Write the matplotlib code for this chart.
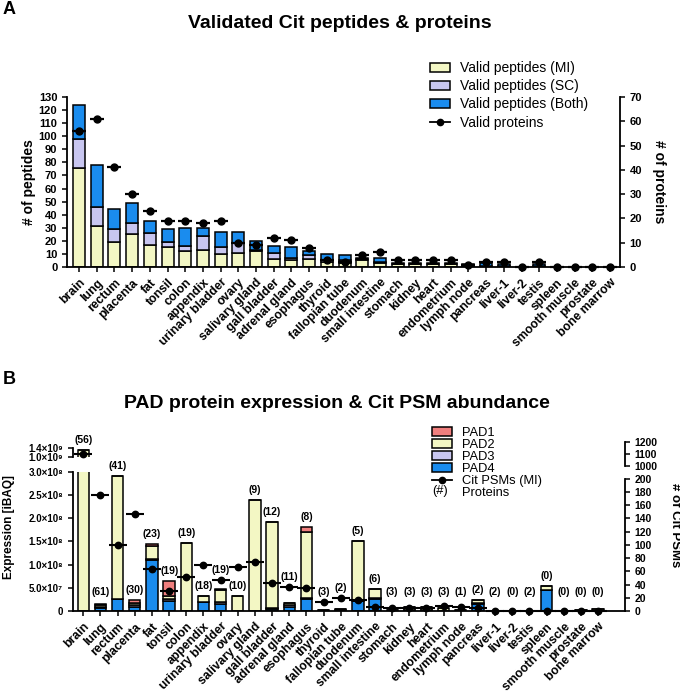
import numpy as np
import matplotlib
matplotlib.use("Agg")
import matplotlib.pyplot as plt
from matplotlib.lines import Line2D
from matplotlib.patches import Patch
from matplotlib.text import Text
from matplotlib.ticker import FuncFormatter

plt.rcParams["font.family"] = ["Liberation Sans", "DejaVu Sans"]

# ---- data ----
tissues = ["brain", "lung", "rectum", "placenta", "fat", "tonsil", "colon", "appendix",
           "urinary bladder", "ovary", "salivary gland", "gall bladder", "adrenal gland",
           "esophagus", "thyroid", "fallopian tube", "duodenum", "small intestine", "stomach",
           "kidney", "heart", "endometrium", "lymph node", "pancreas", "liver-1", "liver-2",
           "testis", "spleen", "smooth muscle", "prostate", "bone marrow"]

# panel A: peptide counts per category (stacked) and protein counts
pep_mi = [76, 31, 19, 25, 17, 15, 12, 13, 10, 11, 12, 6, 5, 6, 4, 3, 5, 3, 2, 2, 2, 2, 1, 1, 1, 0, 1, 0, 0, 0, 0]
pep_sc = [22, 15, 10, 9, 9, 4, 4, 11, 5, 7, 1, 5, 2, 3, 1, 2, 1, 1, 0, 0, 0, 0, 0, 0, 0, 0, 0, 0, 0, 0, 0]
pep_both = [26, 32, 15, 15, 9, 10, 14, 6, 12, 9, 7, 5, 8, 3, 5, 4, 1, 3, 1, 1, 1, 1, 1, 2, 1, 0, 1, 0, 0, 0, 0]
proteins = [56, 61, 41, 30, 23, 19, 19, 18, 19, 10, 9, 12, 11, 8, 3, 2, 5, 6, 3, 3, 3, 3, 1, 2, 2, 0, 2, 0, 0, 0, 0]

# panel B: PAD expression (iBAQ) and Cit PSMs
pad1 = [0, 0.1e7, 0, 0.6e7, 0.3e7, 3.2e7, 0, 0, 0.1e7, 0, 0, 0, 0, 1.0e7, 0, 0, 0, 0, 0,
        0, 0, 0, 0, 0.1e7, 0, 0, 0, 0.1e7, 0, 0, 0]
pad2 = [1.30e9, 0.4e7, 26.5e7, 0.5e7, 3.0e7, 0.8e7, 14.7e7, 1.2e7, 2.6e7, 3.2e7, 23.9e7, 18.6e7,
        0.6e7, 14.3e7, 0.1e7, 0.2e7, 12.9e7, 2.0e7, 0.2e7, 0.7e7, 0.6e7, 0.5e7, 0.2e7, 0.5e7,
        0, 0, 0, 0.7e7, 0, 0.1e7, 0.4e7]
pad3 = [0, 0.2e7, 0, 0.4e7, 0.1e7, 0.3e7, 0, 0.1e7, 0.6e7, 0, 0, 0.1e7, 0.3e7, 0.1e7, 0, 0,
        0, 0.2e7, 0, 0, 0, 0, 0, 0.2e7, 0, 0, 0, 0, 0, 0, 0]
pad4 = [0, 0.7e7, 2.5e7, 0.9e7, 11.0e7, 2.2e7, 0, 1.9e7, 1.4e7, 0.1e7, 0, 0.5e7, 0.9e7, 2.6e7,
        0.1e7, 0.2e7, 2.2e7, 2.5e7, 0.1e7, 0.2e7, 0.3e7, 0.1e7, 0.1e7, 1.6e7, 0.1e7, 0, 0,
        4.6e7, 0, 0.1e7, 0.1e7]
cit_psms = [1100, 175, 100, 146, 64, 30, 52, 69, 47, 66, 74, 42, 36, 34, 14, 19, 17, 6, 5, 4,
            5, 8, 6, 5, 0, 0, 0, 0, 0, 0, 0]

C_MI = "#f3f7c4"
C_SC = "#c8c6f0"
C_BOTH = "#1a8cee"
C_PAD1 = "#f07f7e"

W, H = 680, 692
fig = plt.figure(figsize=(W / 100, H / 100), dpi=100)


def box(l, t, r, b):
    return [l / W, 1 - b / H, (r - l) / W, (b - t) / H]


def style_ticks(ax, size):
    ax.tick_params(width=1.1, length=3.5, labelsize=size)
    for lab in ax.get_yticklabels():
        lab.set_fontweight("bold")


edge = dict(edgecolor="black", linewidth=1.1)
x = np.arange(len(tissues))
XLAB = 8.8

# ---------- panel A ----------
axA = fig.add_axes(box(67, 97, 620, 267))
bw = 0.68
axA.bar(x, pep_mi, bw, color=C_MI, **edge)
axA.bar(x, pep_sc, bw, bottom=pep_mi, color=C_SC, **edge)
axA.bar(x, pep_both, bw, bottom=np.add(pep_mi, pep_sc), color=C_BOTH, **edge)
axA.set_xlim(-0.68, 30.56)
axA.set_ylim(0, 130)
axA.set_yticks(range(0, 131, 10))
axA.set_xticks(x)
axA.set_xticklabels(tissues, rotation=45, ha="right", rotation_mode="anchor",
                    fontsize=XLAB, fontweight="bold")
axA.spines[["top", "right"]].set_visible(False)
for s in ["left", "bottom"]:
    axA.spines[s].set_linewidth(1.3)
style_ticks(axA, 8)
axA.tick_params(axis="x", labelsize=XLAB)
axA.set_ylabel("# of peptides", fontsize=10, fontweight="bold")
axA.yaxis.set_label_coords(-0.056, 0.5)

axA2 = axA.twinx()
axA2.set_ylim(0, 70)
axA2.set_yticks(range(0, 71, 10))
axA2.plot(x, proteins, ls="none", marker="_", ms=9.5, mew=1.6, color="k", clip_on=False)
axA2.plot(x, proteins, ls="none", marker="o", ms=5, color="k", clip_on=False)
axA2.spines[["top", "left", "bottom"]].set_visible(False)
axA2.spines["right"].set_linewidth(1.3)
style_ticks(axA2, 8)
axA2.set_ylabel("# of proteins", fontsize=10, fontweight="bold", rotation=270, va="bottom")
axA2.yaxis.set_label_coords(1.058, 0.5)

leg_handles = [Patch(facecolor=C_MI, **edge), Patch(facecolor=C_SC, **edge),
               Patch(facecolor=C_BOTH, **edge),
               Line2D([], [], color="k", lw=1.3, marker="o", ms=4.5)]
fig.legend(leg_handles, ["Valid peptides (MI)", "Valid peptides (SC)", "Valid peptides (Both)",
                         "Valid proteins"],
           loc="upper left", bbox_to_anchor=(430 / W, 1 - 61 / H), frameon=False,
           fontsize=10, handlelength=1.45, handleheight=0.6, handletextpad=0.72,
           labelspacing=0.3, borderpad=0, borderaxespad=0)

fig.text(0.5, 1 - 23 / H, "Validated Cit peptides & proteins", ha="center", va="center",
         fontsize=14, fontweight="bold")
fig.text(3 / W, 1 - 10 / H, "A", fontsize=13, fontweight="bold", va="center")

# ---------- panel B ----------
SUP = str.maketrans("0123456789", "⁰¹²³⁴⁵⁶⁷⁸⁹")


def sci(v, pos=None):
    if v == 0:
        return "0"
    e = int(np.floor(np.log10(v) + 1e-9))
    return f"{v / 10 ** e:.1f}×10{str(e).translate(SUP)}"


xlimB = (-0.62, 31.57)
bwB = 0.66
axB = fig.add_axes(box(72.7, 471.7, 625, 611))
axBu = fig.add_axes(box(72.7, 447.7, 625, 457.3))
axBu.set_facecolor("none")
b1 = np.array(pad1)
b2 = np.array(pad2)
b3 = np.array(pad3)
b4 = np.array(pad4)
for ax in (axB, axBu):
    ax.bar(x, b4, bwB, color=C_BOTH, **edge)
    ax.bar(x, b3, bwB, bottom=b4, color=C_SC, **edge)
    ax.bar(x, b2, bwB, bottom=b4 + b3, color=C_MI, **edge)
    ax.bar(x, b1, bwB, bottom=b4 + b3 + b2, color=C_PAD1, **edge)
    ax.set_xlim(*xlimB)
    ax.spines[["top", "right"]].set_visible(False)
    ax.spines["left"].set_linewidth(1.3)
    ax.yaxis.set_major_formatter(FuncFormatter(sci))
axB.set_ylim(0, 3e8)
axB.set_yticks(np.arange(0, 3.01e8, 5e7))
axB.spines["bottom"].set_linewidth(1.3)
axB.set_xticks(x)
axB.set_xticklabels(tissues, rotation=45, ha="right", rotation_mode="anchor",
                    fontsize=XLAB, fontweight="bold")
style_ticks(axB, 7)
axB.tick_params(axis="x", labelsize=XLAB)
axB.set_ylabel("Expression [iBAQ]", fontsize=8.5, fontweight="bold")
axB.yaxis.set_label_coords(-0.104, 0.6)

axBu.set_ylim(1e9, 1.4e9)
axBu.set_yticks([1e9, 1.4e9])
axBu.spines["bottom"].set_visible(False)
axBu.tick_params(bottom=False, labelbottom=False)
style_ticks(axBu, 7)

psm = np.array(cit_psms, dtype=float)
axBr = axB.twinx()
axBr.set_ylim(0, 200 * 139.3 / 132.4)
axBr.set_yticks(range(0, 201, 20))
axBr.spines[["top", "left", "bottom"]].set_visible(False)
axBr.spines["right"].set_bounds(0, 200)
axBr.spines["right"].set_linewidth(1.3)
low = np.where(psm <= 200, psm, np.nan)
axBr.plot(x, low, ls="none", marker="_", ms=12.5, mew=1.5, color="k", clip_on=False)
axBr.plot(x, low, ls="none", marker="o", ms=4.6, color="k", clip_on=False)
style_ticks(axBr, 7.5)
axBr.set_ylabel("# of Cit PSMs", fontsize=9.5, fontweight="bold", rotation=270, va="bottom")
axBr.yaxis.set_label_coords(1.08, 0.62)

axBru = fig.add_axes(box(72.7, 441.7, 625, 466))
axBru.set_facecolor("none")
axBru.set_xlim(*xlimB)
axBru.set_ylim(1000, 1200)
axBru.set_yticks([1000, 1100, 1200])
axBru.yaxis.tick_right()
axBru.spines[["top", "left", "bottom"]].set_visible(False)
axBru.spines["right"].set_linewidth(1.3)
axBru.tick_params(bottom=False, labelbottom=False)
high = np.where(psm >= 1000, psm, np.nan)
axBru.plot(x, high, ls="none", marker="_", ms=12.5, mew=1.5, color="k", clip_on=False)
axBru.plot(x, high, ls="none", marker="o", ms=4.6, color="k", clip_on=False)
style_ticks(axBru, 7.5)

# protein counts above the bars (or above a dot sitting just over the bar)
tot = b1 + b2 + b3 + b4
left_per_psm = axB.get_ylim()[1] / axBr.get_ylim()[1]
FLOOR, NEAR = 2e7, 4.7e7
for i, n in enumerate(proteins):
    lab = f"({n})"
    if tot[i] > 3e8:
        axBu.annotate(lab, (i, tot[i]), xytext=(0, 7), textcoords="offset points",
                      ha="center", va="center", fontsize=7.5, fontweight="bold",
                      annotation_clip=False)
        continue
    anchor = tot[i]
    d = psm[i] * left_per_psm if psm[i] <= 200 else np.nan
    if 0 < d - tot[i] < NEAR:
        anchor = d
    anchor = max(anchor, FLOOR)
    axB.annotate(lab, (i, anchor), xytext=(0, 7.2), textcoords="offset points",
                 ha="center", va="center", fontsize=7.5, fontweight="bold",
                 annotation_clip=False)


class HashKey:
    pass


class HashHandler:
    def legend_artist(self, legend, orig_handle, fontsize, handlebox):
        t = Text(-handlebox.xdescent, -handlebox.ydescent + handlebox.height / 2, "(#)",
                 fontsize=fontsize, va="center", ha="left")
        handlebox.add_artist(t)
        return t


hb = [Patch(facecolor=C_PAD1, **edge), Patch(facecolor=C_MI, **edge),
      Patch(facecolor=C_SC, **edge), Patch(facecolor=C_BOTH, **edge),
      Line2D([], [], color="k", lw=1.3, marker="o", ms=4.5), HashKey()]
fig.legend(hb, ["PAD1", "PAD2", "PAD3", "PAD4", "Cit PSMs (MI)", "Proteins"],
           handler_map={HashKey: HashHandler()},
           loc="upper left", bbox_to_anchor=(432 / W, 1 - 427 / H), frameon=False,
           fontsize=9.3, handlelength=1.55, handleheight=0.6, handletextpad=0.75,
           labelspacing=0.0, borderpad=0, borderaxespad=0)

fig.text(337 / W, 1 - 403 / H, "PAD protein expression & Cit PSM abundance", ha="center",
         va="center", fontsize=14, fontweight="bold")
fig.text(3 / W, 1 - 380 / H, "B", fontsize=13, fontweight="bold", va="center")

fig.savefig("out.png", dpi=100)
